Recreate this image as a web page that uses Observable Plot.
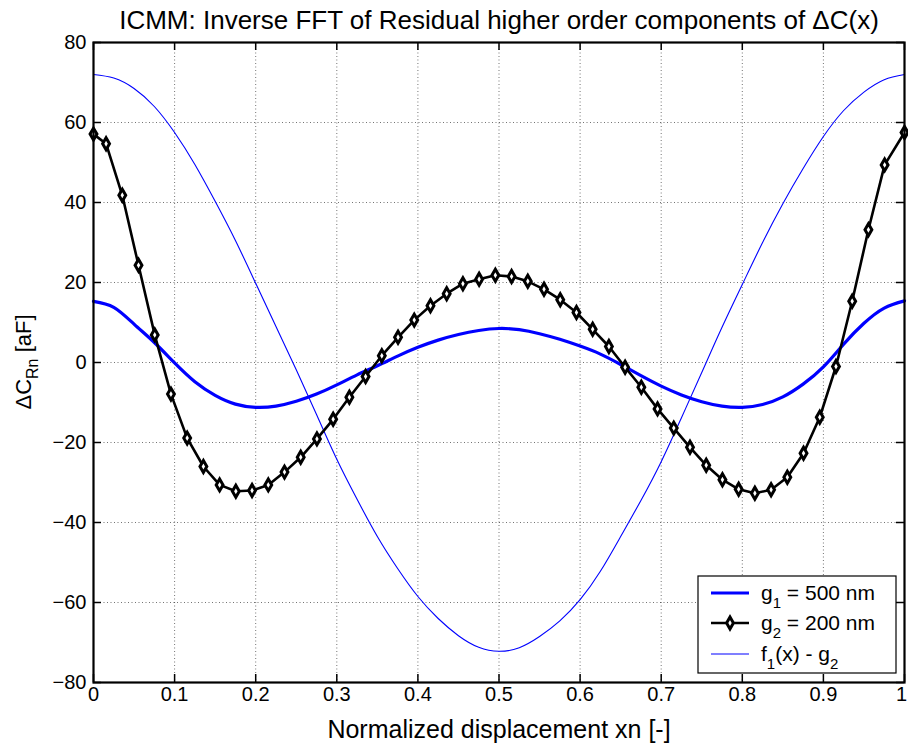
<!DOCTYPE html>
<html>
<head>
<meta charset="utf-8">
<script src="https://cdn.jsdelivr.net/npm/d3@7"></script>
<script src="https://cdn.jsdelivr.net/npm/@observablehq/plot@0.6"></script>
<style>
  html, body { margin: 0; padding: 0; background: #fff; }
  #chart svg { display: block; }
</style>
</head>
<body>
<div id="chart"></div>
<script>
// ---- data ----
const title = "ICMM: Inverse FFT of Residual higher order components of \u0394C(x)";
const xLabel = "Normalized displacement xn [-]";
const xTicks = [0, 0.1, 0.2, 0.3, 0.4, 0.5, 0.6, 0.7, 0.8, 0.9, 1];
const xTickLabels = ["0", "0.1", "0.2", "0.3", "0.4", "0.5", "0.6", "0.7", "0.8", "0.9", "1"];
const yTicks = [-80, -60, -40, -20, 0, 20, 40, 60, 80];

// g1 = 500 nm (thick blue)
const g1X = [0, 0.025, 0.05, 0.075, 0.1, 0.125, 0.15, 0.175, 0.2, 0.225, 0.25, 0.275, 0.3, 0.325, 0.35, 0.375, 0.4, 0.425, 0.45, 0.475, 0.5,
             0.525, 0.55, 0.575, 0.6, 0.625, 0.65, 0.675, 0.7, 0.725, 0.75, 0.775, 0.8, 0.825, 0.85, 0.875, 0.9, 0.925, 0.95, 0.975, 1];
const g1Y = [15.3, 13.8, 9.6, 5.0, -0.1, -4.8, -8.2, -10.4, -11.2, -10.9, -9.7, -7.9, -5.6, -3.1, -0.8, 1.6, 3.8, 5.6, 7.0, 8.0, 8.5,
             8.2, 7.2, 5.8, 4.1, 2.1, -0.5, -3.3, -5.9, -8.1, -9.8, -10.9, -11.2, -10.5, -8.6, -5.4, -1.1, 4.6, 9.8, 13.6, 15.4];

// g2 = 200 nm (black with diamonds)
const g2X = [0, 0.0155, 0.0355, 0.0555, 0.0755, 0.0955, 0.1155, 0.1355, 0.1555, 0.1755, 0.1955, 0.2155, 0.2355, 0.2555, 0.2755,
             0.2955, 0.3155, 0.3355, 0.3555, 0.3755, 0.3955, 0.4155, 0.4355, 0.4555, 0.4755, 0.4955, 0.5155, 0.5355, 0.5555,
             0.5755, 0.5955, 0.6155, 0.6355, 0.6555, 0.6755, 0.6955, 0.7155, 0.7355, 0.7555, 0.7755, 0.7955, 0.8155, 0.8355,
             0.8555, 0.8755, 0.8955, 0.9155, 0.9355, 0.9555, 0.9755, 1];
const g2Y = [57.1, 54.7, 41.8, 24.3, 6.9, -7.9, -18.9, -26.0, -30.6, -32.2, -32.0, -30.6, -27.4, -23.7, -19.1,
             -14.2, -8.7, -3.5, 1.7, 6.3, 10.6, 14.2, 17.2, 19.7, 20.8, 21.8, 21.5, 20.3, 18.3,
             15.7, 12.5, 8.3, 4.0, -1.2, -6.2, -11.6, -16.4, -21.2, -25.7, -29.3, -31.7, -32.7, -31.8,
             -28.7, -22.7, -13.7, -1.0, 15.3, 33.2, 49.4, 57.5];

// f1(x) - g2 (thin blue)
const fX = [0, 0.025, 0.05, 0.075, 0.1, 0.125, 0.15, 0.175, 0.2, 0.225, 0.25, 0.275, 0.3, 0.325, 0.35, 0.375, 0.4, 0.425, 0.45, 0.475, 0.5,
            0.525, 0.55, 0.575, 0.6, 0.625, 0.65, 0.675, 0.7, 0.725, 0.75, 0.775, 0.8, 0.825, 0.85, 0.875, 0.9, 0.925, 0.95, 0.975, 1];
const fY = [72.0, 71.1, 68.5, 64.0, 57.5, 49.5, 40.3, 30.5, 19.8, 9.0, -1.8, -13.0, -24.2, -34.2, -43.5, -51.5, -58.5, -64.0, -68.3, -71.2, -72.2,
            -71.3, -68.5, -64.6, -59.3, -52.2, -43.5, -34.5, -24.8, -13.8, -2.5, 8.8, 19.5, 30.0, 39.7, 48.5, 56.5, 63.0, 67.6, 70.7, 72.0];

const legendLabels = [["g", "1", " = 500 nm"], ["g", "2", " = 200 nm"], ["f", "1", "(x) - g", "2"]];

// ---- tables ----
const g1 = g1X.map((x, i) => ({x, y: g1Y[i]}));
const g2 = g2X.map((x, i) => ({x, y: g2Y[i]}));
const f = fX.map((x, i) => ({x, y: fY[i]}));
const xTickData = xTicks.map((x, i) => ({x, label: xTickLabels[i]}));

const FONT = "'Liberation Sans', Arial, Helvetica, sans-serif";
const W = 908, H = 746, mL = 93, mR = 4, mT = 42, mB = 64;
const fw = W - mL - mR, fh = H - mT - mB, TL = 8;
const gridStyle = {stroke: "#000", strokeOpacity: 0.55, strokeDasharray: "1,2.5", strokeWidth: 1};

const chart = Plot.plot({
  width: W, height: H,
  marginLeft: mL, marginRight: mR, marginTop: mT, marginBottom: mB,
  x: {domain: [0, 1], axis: null},
  y: {domain: [-80, 80]},
  style: {fontFamily: FONT, fontSize: "20px", color: "#000", background: "#fff"},
  marks: [
    Plot.gridX(xTicks, gridStyle),
    Plot.gridY(yTicks, gridStyle),
    // inward ticks on all four sides
    Plot.ruleX(xTicks, {stroke: "#000", strokeWidth: 1.5, insetTop: fh - TL}),
    Plot.ruleX(xTicks, {stroke: "#000", strokeWidth: 1.5, insetBottom: fh - TL}),
    Plot.ruleY(yTicks, {stroke: "#000", strokeWidth: 1.5, insetRight: fw - TL}),
    Plot.ruleY(yTicks, {stroke: "#000", strokeWidth: 1.5, insetLeft: fw - TL}),
    // x tick labels (last one nudged to stay inside the picture)
    Plot.text(xTickData.slice(0, -1), {x: "x", text: "label", frameAnchor: "bottom", dy: 18, fontSize: 20, fill: "#000"}),
    Plot.text(xTickData.slice(-1), {x: "x", text: "label", frameAnchor: "bottom", dy: 18, dx: -3, fontSize: 20, fill: "#000"}),
    Plot.axisY(yTicks, {anchor: "left", tickSize: 0, tickPadding: 7, fontSize: 20, label: null}),
    Plot.line(f, {x: "x", y: "y", stroke: "#0000ff", strokeWidth: 1.1, curve: "natural"}),
    Plot.line(g1, {x: "x", y: "y", stroke: "#0000ff", strokeWidth: 3.2, curve: "natural"}),
    Plot.line(g2, {x: "x", y: "y", stroke: "#000", strokeWidth: 2.6}),
    Plot.dot(g2, {x: "x", y: "y", symbol: "diamond", r: 3.6, stroke: "#000", strokeWidth: 3, fill: "#fff"}),
    Plot.frame({stroke: "#000", strokeWidth: 2.2}),
    Plot.text([title], {frameAnchor: "top", dy: -14, fontSize: 26, fill: "#000", lineAnchor: "bottom"}),
    Plot.text([xLabel], {frameAnchor: "bottom", dy: 55, fontSize: 25, fill: "#000", lineAnchor: "bottom"})
  ]
});
document.getElementById("chart").appendChild(chart);

// ---- y label with subscript ----
const svg = d3.select(chart);
const yl = svg.append("text")
  .attr("transform", "translate(31," + (mT + fh / 2) + ") rotate(-90)")
  .attr("text-anchor", "middle")
  .attr("font-family", FONT).attr("font-size", 22).attr("fill", "#000");
yl.append("tspan").text("\u0394C");
yl.append("tspan").attr("font-size", 16).attr("dy", 7).text("Rn");
yl.append("tspan").attr("dy", -7).text(" [aF]");

// ---- legend ----
const lx = 698, ly = 576, lw = 198, lh = 97;
const lg = svg.append("g").attr("font-family", FONT).attr("font-size", 21).attr("fill", "#000")
  .attr("text-anchor", "start");
lg.append("rect").attr("x", lx).attr("y", ly).attr("width", lw).attr("height", lh)
  .attr("fill", "#fff").attr("stroke", "#000").attr("stroke-width", 1.2);
const rows = [593, 623, 654];
const styles = [
  {stroke: "#0000ff", w: 3.2, marker: false},
  {stroke: "#000", w: 2.6, marker: true},
  {stroke: "#0000ff", w: 1.1, marker: false}
];
rows.forEach((ry, i) => {
  lg.append("line").attr("x1", lx + 13).attr("x2", lx + 51).attr("y1", ry).attr("y2", ry)
    .attr("stroke", styles[i].stroke).attr("stroke-width", styles[i].w);
  if (styles[i].marker) {
    lg.append("path").attr("d", d3.symbol(d3.symbolDiamond, 40)())
      .attr("transform", "translate(" + (lx + 32) + "," + ry + ")")
      .attr("fill", "#fff").attr("stroke", "#000").attr("stroke-width", 3);
  }
  const t = lg.append("text").attr("x", lx + 63).attr("y", ry + 7).attr("text-anchor", "start");
  const parts = legendLabels[i];
  parts.forEach((p, j) => {
    const isSub = (j % 2 === 1);
    const ts = t.append("tspan").text(p);
    if (isSub) ts.attr("font-size", 15).attr("dy", 8);
    else if (j > 0) ts.attr("dy", -8);
  });
});
</script>
</body>
</html>
